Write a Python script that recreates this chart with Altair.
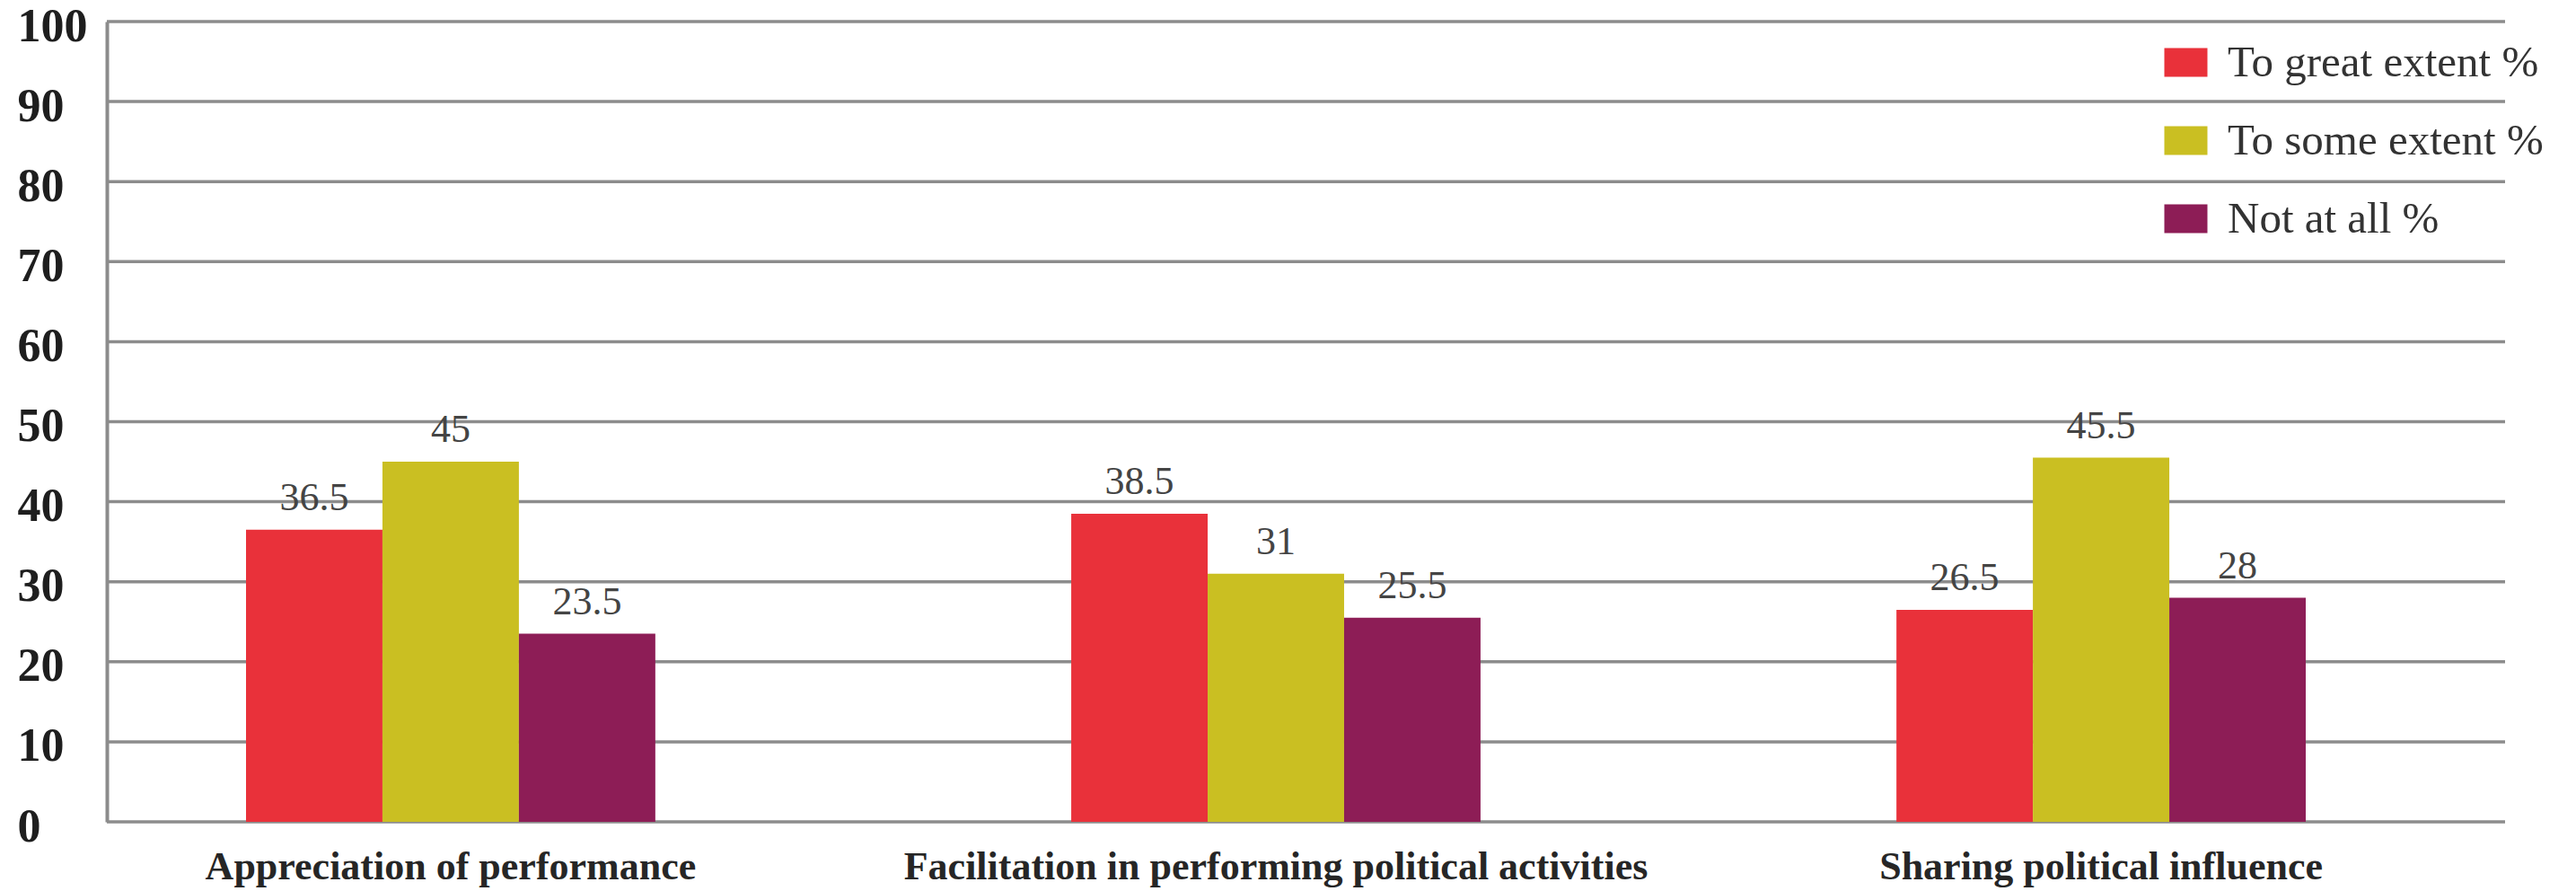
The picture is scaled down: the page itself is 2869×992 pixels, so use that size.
import altair as alt
import pandas as pd

# Survey categories (x groups) and response series
categories = [
    "Appreciation of performance",
    "Facilitation in performing political activities",
    "Sharing political influence",
]
series = ["To great extent %", "To some extent %", "Not at all %"]

great_extent = [36.5, 38.5, 26.5]
some_extent = [45, 31, 45.5]
not_at_all = [23.5, 25.5, 28]

series_colors = ["#E9313A", "#CABF22", "#8D1D56"]
y_ticks = [0, 10, 20, 30, 40, 50, 60, 70, 80, 90, 100]

rows = []
for name, values in zip(series, [great_extent, some_extent, not_at_all]):
    for cat, v in zip(categories, values):
        rows.append({"category": cat, "series": name, "value": v, "label": f"{v:g}"})
df = pd.DataFrame(rows)
grid_df = pd.DataFrame({"value": y_ticks})

SERIF = "'Liberation Serif', 'Times New Roman', serif"
GRID = "#8c8c8c"
PLOT_W = 2671
PLOT_H = 891

y_scale = alt.Scale(domain=[0, 100], nice=False)
y_axis = alt.Axis(
    title=None,
    values=y_ticks,
    ticks=False,
    domainColor=GRID,
    domainWidth=4,
    grid=False,
    labelFont=SERIF,
    labelFontSize=52,
    labelFontWeight="bold",
    labelColor="#1e1e1e",
    labelAlign="left",
    labelBaseline="middle",
    labelPadding=100,
    labelOffset=5,
)

x_enc = alt.X(
    "category:N",
    sort=categories,
    scale=alt.Scale(range=[155, 2449], paddingInner=0.504, paddingOuter=0),
    axis=alt.Axis(
        title=None,
        domain=False,
        ticks=False,
        labelFont=SERIF,
        labelFontSize=44,
        labelFontWeight="bold",
        labelColor="#262626",
        labelPadding=28,
        labelAngle=0,
        labelLimit=0,
    ),
)
xoff_enc = alt.XOffset(
    "series:N", sort=series, scale=alt.Scale(paddingInner=0, paddingOuter=0)
)
y_enc = alt.Y("value:Q", scale=y_scale, axis=y_axis)

# Horizontal gridlines across the whole plot width (also carries the y axis)
grid = (
    alt.Chart(grid_df)
    .mark_rule(color=GRID, strokeWidth=3.5)
    .encode(
        y=alt.Y("value:Q", scale=y_scale, axis=y_axis),
        x=alt.value(0),
        x2=alt.value(PLOT_W),
    )
)

base = alt.Chart(df).encode(x=x_enc, xOffset=xoff_enc, y=y_enc)

bars = base.mark_bar(strokeWidth=0).encode(
    color=alt.Color(
        "series:N",
        sort=series,
        scale=alt.Scale(domain=series, range=series_colors),
        legend=alt.Legend(
            title=None,
            orient="none",
            legendX=2291,
            legendY=21,
            padding=0,
            symbolType="M-1,-0.667H1V0.667H-1Z",
            symbolSize=2304,
            symbolStrokeWidth=0,
            symbolOpacity=1,
            labelFont=SERIF,
            labelFontSize=49,
            labelColor="#333333",
            labelOffset=22,
            labelLimit=0,
            rowPadding=37,
        ),
    )
)

labels = base.mark_text(
    dy=-22, baseline="alphabetic", align="center", font=SERIF, fontSize=44, color="#444444"
).encode(text="label:N")

chart = (
    alt.layer(grid, bars, labels)
    .properties(
        width=PLOT_W,
        height=PLOT_H,
        autosize=alt.AutoSizeParams(type="none"),
        padding={"left": 119, "top": 24, "right": 79, "bottom": 77},
        background="white",
    )
    .configure_view(stroke=None)
)

chart.save("out.html", embed_options={"renderer": "svg", "actions": False})
